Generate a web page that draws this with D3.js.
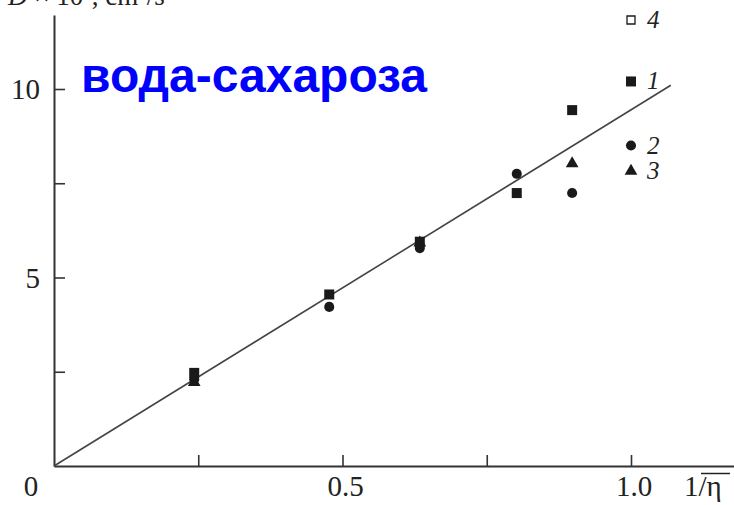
<!DOCTYPE html>
<html>
<head>
<meta charset="utf-8">
<script src="https://cdn.jsdelivr.net/npm/d3@7/dist/d3.min.js"></script>
<style>
  html, body { margin: 0; padding: 0; background: #fff; }
  svg { display: block; }
</style>
</head>
<body>
<svg id="chart" width="734" height="505"></svg>
<script>
// ---- data ----
const title = "вода-сахароза";
const xTicks = [0.25, 0.5, 0.75, 1.0];
const xTickLabels = [[0, "0"], [0.5, "0.5"], [1.0, "1.0"]];
const yTicks = [2.5, 5, 7.5, 10];
const yTickLabels = [[5, "5"], [10, "10"]];

// series 1: filled squares
const s1x = [0.243, 0.477, 0.634, 0.802, 0.898];
const s1y = [2.47, 4.55, 5.95, 7.24, 9.44];
// series 2: filled circles
const s2x = [0.243, 0.477, 0.634, 0.802, 0.898];
const s2y = [2.30, 4.22, 5.78, 7.75, 7.24];
// series 3: filled triangles
const s3x = [0.243, 0.634, 0.898];
const s3y = [2.22, 5.92, 8.02];
// fit line endpoints
const fitX = [0, 1.069];
const fitY = [0, 10.1];
// legend
const legendLabels = ["4", "1", "2", "3"];
const legendKinds = ["open", "square", "circle", "triangle"];
const legendY = [11.83, 10.2, 8.5, 7.82];

// ---- layout ----
const svg = d3.select("#chart");
const x = d3.scaleLinear().domain([0, 1]).range([54, 631]);
const y = d3.scaleLinear().domain([0, 10]).range([466, 89]);
const xAxisScale = x.copy().domain([0, x.invert(734)]).range([54, 734]);
const yAxisScale = y.copy().domain([0, y.invert(15)]).range([466, 15]);
const axisColor = "#333";
const serif = "'Liberation Serif', 'Times New Roman', serif";

// axes
const gx = svg.append("g").attr("transform", `translate(0,${y(0)})`)
  .call(d3.axisBottom(xAxisScale).tickValues(xTicks).tickSizeInner(-11).tickSizeOuter(0).tickFormat(""));
const gy = svg.append("g").attr("transform", `translate(${x(0)},0)`)
  .call(d3.axisLeft(yAxisScale).tickValues(yTicks).tickSizeInner(-11).tickSizeOuter(0).tickFormat(""));
[gx, gy].forEach(g => {
  g.select(".domain").attr("stroke", axisColor).attr("stroke-width", 2);
  g.selectAll(".tick line").attr("stroke", axisColor).attr("stroke-width", 1.6);
});

// tick labels
svg.append("g").selectAll("text").data(xTickLabels).join("text")
  .attr("x", d => d[0] === 0 ? 31 : x(d[0]) + 3)
  .attr("y", 496)
  .attr("text-anchor", "middle")
  .attr("font-family", serif)
  .attr("font-size", 29)
  .attr("fill", "#222")
  .text(d => d[1]);
svg.append("g").selectAll("text").data(yTickLabels).join("text")
  .attr("x", 40)
  .attr("y", d => y(d[0]) + 10)
  .attr("text-anchor", "end")
  .attr("font-family", serif)
  .attr("font-size", 29)
  .attr("fill", "#222")
  .text(d => d[1]);

// x axis title 1/√η
const xt = svg.append("g");
xt.append("text").attr("x", 684).attr("y", 496)
  .attr("font-family", serif).attr("font-size", 29).attr("fill", "#222")
  .text("1/η");
xt.append("line").attr("x1", 701).attr("x2", 730).attr("y1", 473.5).attr("y2", 473.5)
  .attr("stroke", "#222").attr("stroke-width", 1.5);

// y axis title (clipped at top, as in the reference)
const yt = svg.append("text").attr("x", 8).attr("y", 5)
  .attr("font-family", serif).attr("font-size", 27).attr("fill", "#222");
yt.append("tspan").attr("font-style", "italic").text("D");
yt.append("tspan").text(" × 10");
yt.append("tspan").attr("font-size", 17).attr("dy", -10).text("6");
yt.append("tspan").attr("dy", 10).text(", cm");
yt.append("tspan").attr("font-size", 17).attr("dy", -10).text("2");
yt.append("tspan").attr("dy", 10).text("/s");

// fit line
svg.append("line")
  .attr("x1", x(fitX[0])).attr("y1", y(fitY[0]))
  .attr("x2", x(fitX[1])).attr("y2", y(fitY[1]))
  .attr("stroke", "#444").attr("stroke-width", 1.6);

// markers
const sym = {
  square: d3.symbol().type(d3.symbolSquare).size(100),
  open: d3.symbol().type(d3.symbolSquare).size(64),
  circle: d3.symbol().type(d3.symbolCircle).size(80),
  triangle: d3.symbol().type(d3.symbolTriangle).size(70)
};
function drawSeries(xs, ys, kind) {
  svg.append("g").selectAll("path").data(xs.map((v, i) => [v, ys[i]])).join("path")
    .attr("transform", d => `translate(${x(d[0])},${y(d[1])})`)
    .attr("d", sym[kind]())
    .attr("fill", kind === "open" ? "#fff" : "#1a1a1a")
    .attr("stroke", kind === "open" ? "#1a1a1a" : "none")
    .attr("stroke-width", 1.3);
}
drawSeries(s3x, s3y, "triangle");
drawSeries(s2x, s2y, "circle");
drawSeries(s1x, s1y, "square");

// legend
const lg = svg.append("g");
legendLabels.forEach((lab, i) => {
  lg.append("path")
    .attr("transform", `translate(${x(1.0)},${y(legendY[i])})`)
    .attr("d", sym[legendKinds[i]]())
    .attr("fill", legendKinds[i] === "open" ? "#fff" : "#1a1a1a")
    .attr("stroke", legendKinds[i] === "open" ? "#1a1a1a" : "none")
    .attr("stroke-width", 1.3);
  lg.append("text")
    .attr("x", 647).attr("y", y(legendY[i]) + 8)
    .attr("font-family", serif).attr("font-style", "italic")
    .attr("font-size", 25).attr("fill", "#222")
    .text(lab);
});

// title
svg.append("text")
  .attr("x", 81).attr("y", 92)
  .attr("font-family", "'Liberation Sans', Arial, sans-serif")
  .attr("font-weight", "bold")
  .attr("font-size", 48)
  .attr("fill", "#0000ff")
  .text(title);
</script>
</body>
</html>
